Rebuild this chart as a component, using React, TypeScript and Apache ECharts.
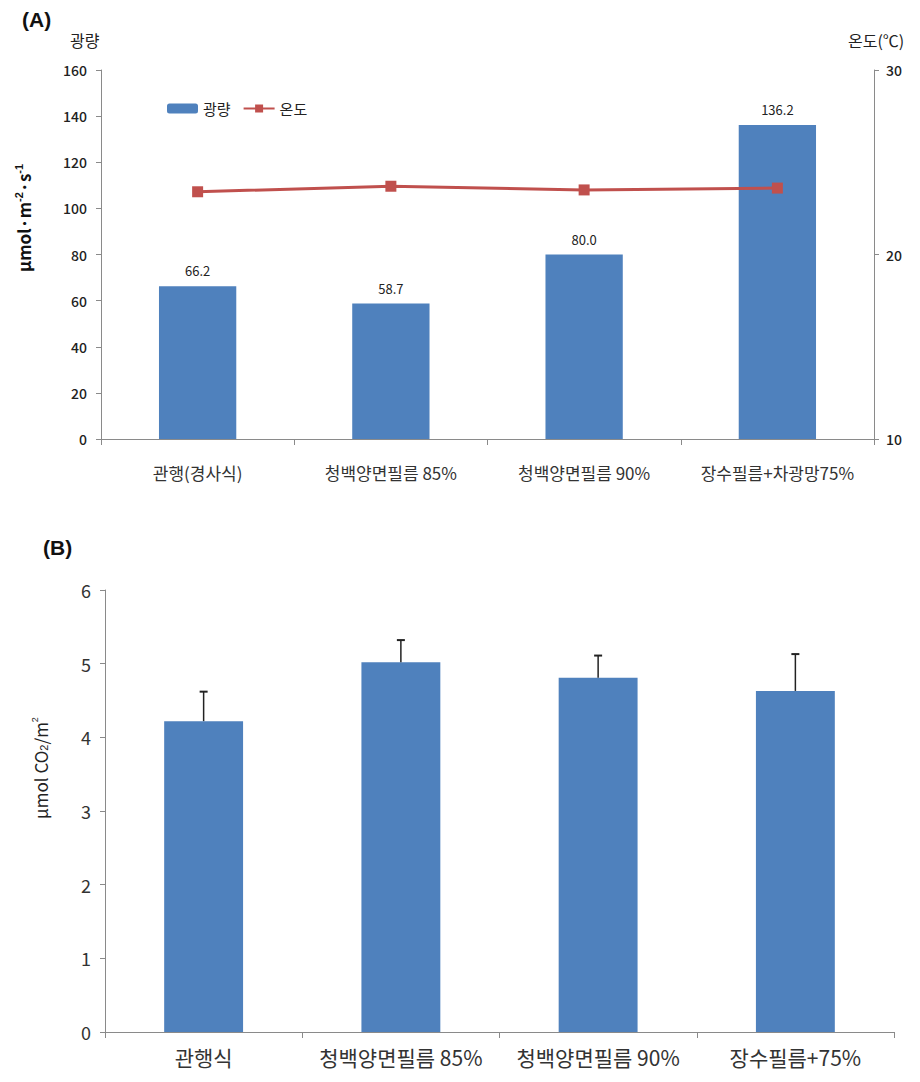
import React, { useEffect, useRef } from "react";
import * as echarts from "echarts";

const categoriesA = ["관행(경사식)", "청백양면필름 85%", "청백양면필름 90%", "장수필름+차광망75%"];
const lightValues = [66.2, 58.7, 80.0, 136.2];
const tempValues = [23.4, 23.7, 23.5, 23.6];
const lightTicks = { min: 0, max: 160, interval: 20 };
const tempTicks = { min: 10, max: 30, interval: 10 };

const categoriesB = ["관행식", "청백양면필름 85%", "청백양면필름 90%", "장수필름+75%"];
const co2Values = [4.22, 5.02, 4.81, 4.63];
const co2Errors = [0.4, 0.3, 0.3, 0.5];
const co2Ticks = { min: 0, max: 6, interval: 1 };

const FONT = "'Noto Sans CJK KR', 'Noto Sans', sans-serif";
const AXIS_GRAY = "#8a8a8a";
const BAR_BLUE = "#4F81BD";
const LINE_RED = "#C0504D";

export default function App() {
  const ref = useRef<HTMLDivElement>(null);
  useEffect(() => {
    if (!ref.current) return;
    const chart = echarts.init(ref.current, null, { renderer: "svg" });
    const axisLine = { show: true, lineStyle: { color: AXIS_GRAY, width: 1 } };
    const axisTick = { show: true, length: 5, lineStyle: { color: AXIS_GRAY } };
    chart.setOption({
      animation: false,
      textStyle: { fontFamily: FONT },
      grid: [
        { left: 101, right: 46, top: 70, height: 369 },
        { left: 105, right: 26, top: 590, height: 442 },
      ],
      legend: {
        data: ["광량", "온도"],
        left: 162,
        top: 96,
        itemWidth: 31,
        itemHeight: 10,
        itemGap: 12,
        textStyle: { fontSize: 15, color: "#222", fontFamily: FONT },
      },
      xAxis: [
        {
          type: "category",
          gridIndex: 0,
          data: categoriesA,
          boundaryGap: true,
          axisLine,
          axisTick: { show: true, length: 6, lineStyle: { color: AXIS_GRAY } },
          axisLabel: { fontSize: 17, color: "#333", margin: 25, interval: 0 },
        },
        {
          type: "category",
          gridIndex: 1,
          data: categoriesB,
          boundaryGap: true,
          axisLine,
          axisTick: { show: true, length: 6, lineStyle: { color: AXIS_GRAY } },
          axisLabel: { fontSize: 21, color: "#333", margin: 14, interval: 0 },
        },
      ],
      yAxis: [
        {
          type: "value",
          gridIndex: 0,
          position: "left",
          ...lightTicks,
          axisLine,
          axisTick,
          splitLine: { show: false },
          axisLabel: { fontSize: 14, color: "#222", margin: 14, fontWeight: 500 },
        },
        {
          type: "value",
          gridIndex: 0,
          position: "right",
          ...tempTicks,
          axisLine,
          axisTick,
          splitLine: { show: false },
          axisLabel: { fontSize: 14, color: "#222", margin: 12, fontWeight: 500 },
        },
        {
          type: "value",
          gridIndex: 1,
          ...co2Ticks,
          axisLine,
          axisTick,
          splitLine: { show: false },
          axisLabel: { fontSize: 18, color: "#333", margin: 14 },
        },
      ],
      series: [
        {
          name: "광량",
          type: "bar",
          xAxisIndex: 0,
          yAxisIndex: 0,
          data: lightValues,
          barWidth: "40%",
          itemStyle: { color: BAR_BLUE },
          label: {
            show: true,
            position: "top",
            distance: 9,
            fontSize: 13,
            color: "#222",
            formatter: (p: any) => Number(p.value).toFixed(1),
          },
        },
        {
          name: "온도",
          type: "line",
          xAxisIndex: 0,
          yAxisIndex: 1,
          data: tempValues,
          symbol: "rect",
          symbolSize: 11,
          lineStyle: { color: LINE_RED, width: 3 },
          itemStyle: { color: LINE_RED },
          z: 5,
        },
        {
          name: "CO2",
          type: "bar",
          xAxisIndex: 1,
          yAxisIndex: 2,
          data: co2Values,
          barWidth: "40%",
          itemStyle: { color: BAR_BLUE },
        },
        {
          name: "오차",
          type: "custom",
          xAxisIndex: 1,
          yAxisIndex: 2,
          z: 10,
          data: co2Values.map((v, i) => [i, v, co2Errors[i]]),
          encode: { x: 0, y: 1 },
          renderItem: (params: any, api: any) => {
            const i = api.value(0);
            const v = api.value(1);
            const e = api.value(2);
            const base = api.coord([i, v]);
            const top = api.coord([i, v + e]);
            return {
              type: "group",
              children: [
                {
                  type: "line",
                  shape: { x1: base[0], y1: base[1], x2: top[0], y2: top[1] },
                  style: { stroke: "#222", lineWidth: 1.5 },
                },
                {
                  type: "line",
                  shape: { x1: top[0] - 4, y1: top[1], x2: top[0] + 4, y2: top[1] },
                  style: { stroke: "#222", lineWidth: 2 },
                },
              ],
            };
          },
        },
      ],
      graphic: [
        {
          type: "text",
          left: 22,
          top: 9,
          style: { text: "(A)", font: "bold 21px 'Liberation Sans', Arial, sans-serif", fill: "#111" },
        },
        {
          type: "text",
          left: 43,
          top: 537,
          style: { text: "(B)", font: "bold 21px 'Liberation Sans', Arial, sans-serif", fill: "#111" },
        },
        {
          type: "text",
          left: 70,
          top: 32,
          style: { text: "광량", font: `16px ${FONT}`, fill: "#222" },
        },
        {
          type: "text",
          left: 848,
          top: 32,
          style: { text: "온도(℃)", font: `16px ${FONT}`, fill: "#222" },
        },
        {
          type: "text",
          x: 23,
          y: 218,
          rotation: Math.PI / 2,
          style: {
            text: "μmol·m{sup|-2}·s{sup|-1}",
            font: `bold 17px ${FONT}`,
            fill: "#111",
            align: "center",
            verticalAlign: "middle",
            rich: {
              sup: { fontSize: 11, fontWeight: "bold", verticalAlign: "top", fill: "#111", padding: [0, 0, 8, 0] },
            },
          },
        },
        {
          type: "text",
          x: 40,
          y: 768,
          rotation: Math.PI / 2,
          style: {
            text: "μmol CO{sub|2}/m{sup|2}",
            font: `17px ${FONT}`,
            fill: "#222",
            align: "center",
            verticalAlign: "middle",
            rich: {
              sub: { fontSize: 11, fill: "#222", padding: [8, 0, 0, 0] },
              sup: { fontSize: 9, fill: "#222", padding: [0, 0, 10, 0] },
            },
          },
        },
      ],
    });
    return () => chart.dispose();
  }, []);
  return (
    <div
      ref={ref}
      style={{ position: "absolute", left: 0, top: 0, width: 920, height: 1082, background: "#fff" }}
    />
  );
}
